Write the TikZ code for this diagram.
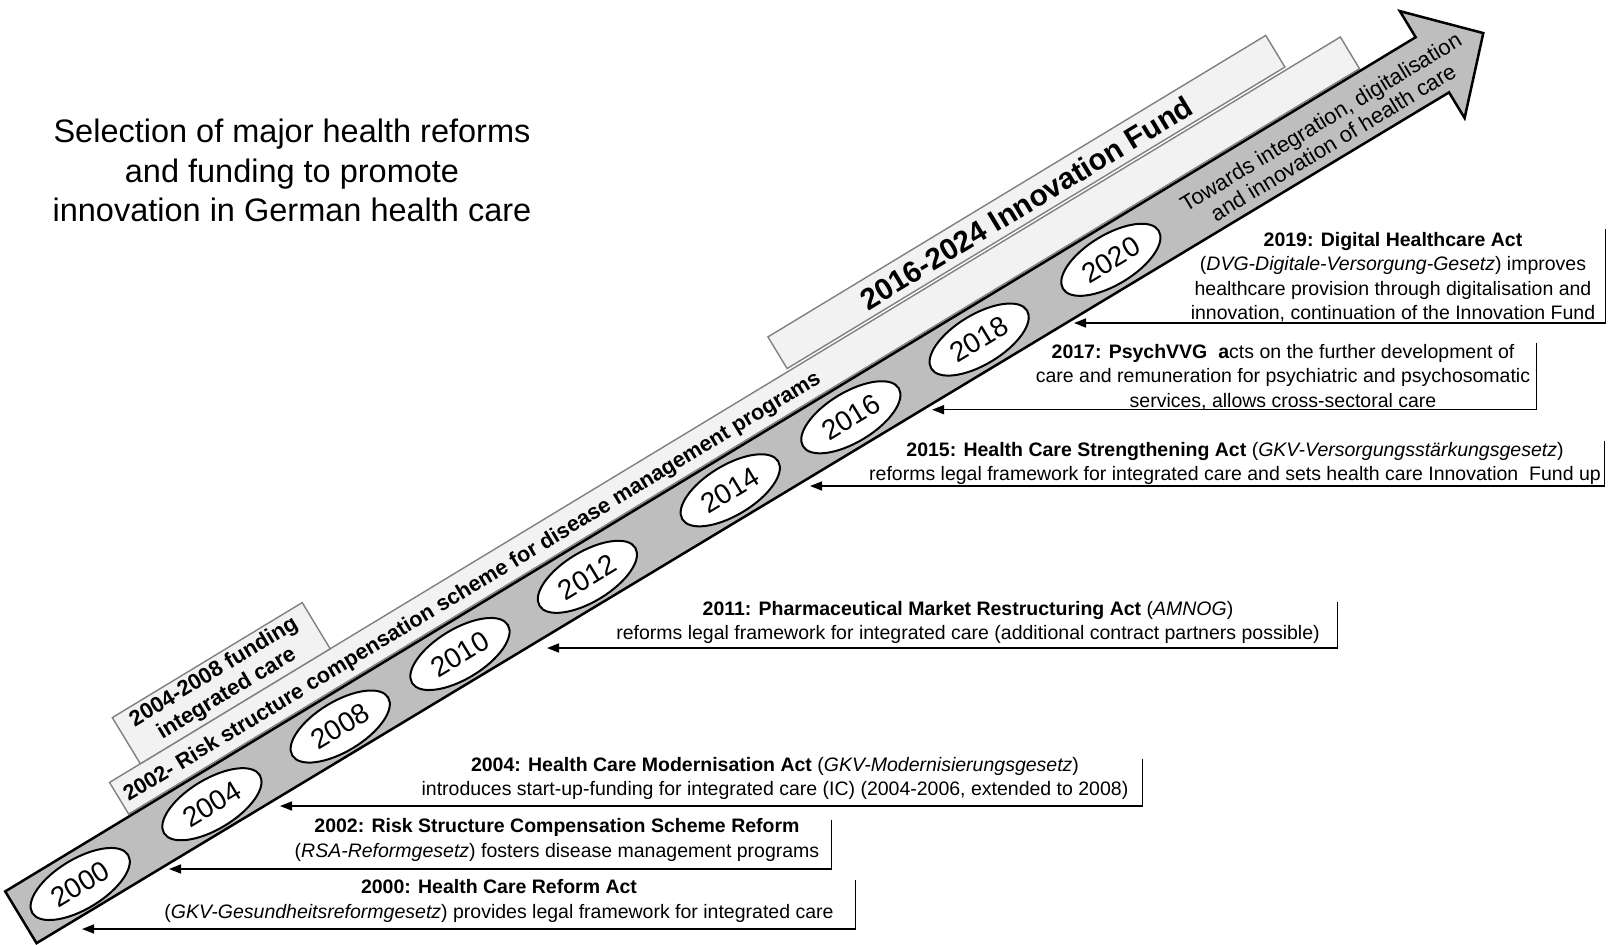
\documentclass[tikz,border=0pt]{standalone}
\usepackage{fontspec}
\setmainfont{Liberation Sans}
\usetikzlibrary{shapes.geometric,arrows.meta}
\definecolor{shaftgray}{RGB}{190,190,190}
\definecolor{boxfill}{RGB}{242,242,242}
\definecolor{boxline}{RGB}{128,128,128}
\begin{document}
\begin{tikzpicture}[x=1pt,y=1pt,
  lightbox/.style={draw=boxline, fill=boxfill, line width=1.4pt, inner sep=0pt, transform shape, anchor=south west},
  shaftstyle/.style={draw=black, fill=shaftgray, line width=2.5pt, line join=miter},
  yearel/.style={ellipse, draw=black, fill=white, line width=2pt, minimum width=112pt, minimum height=50pt, inner sep=0pt, transform shape, font=\fontsize{28}{32}\selectfont},
  bandtext/.style={transform shape, inner sep=0pt, font=\fontsize{21.6}{25}\selectfont\bfseries},
  lbl/.style={anchor=north, align=center, inner sep=0pt, font=\fontsize{19.5}{24.5}\selectfont},
  lblline/.style={line width=1.5pt, -{Triangle[length=12pt,width=9pt]}},
]
\useasboundingbox (0,0) rectangle (1618,-945);

% title
\node[align=center, anchor=north, inner sep=0pt, font=\fontsize{32.5}{39.5}\selectfont] (title) at (292,-119)
  {Selection of major health reforms\\and funding to promote\\innovation in German health care};

% rotated timeline
\begin{scope}[shift={(21,-917.5)}, rotate=31.2]
  \node[lightbox, minimum width=1439pt, minimum height=37pt] (riskbox) at (145,32) {};
  \node[lightbox, minimum width=582pt, minimum height=37pt] (fundbox) at (939,72) {};
  \node[lightbox, minimum width=222pt, minimum height=54pt] (icbox) at (181,69) {};
  \draw[shaftstyle] (0,-30) -- (1649,-34) -- (1649,-64) -- (1709,-1) -- (1649,61) -- (1649,30.5) -- (0,30.5) -- cycle;
  \foreach \yr/\s in {2000/68,2004/222,2008/372,2010/512,2012/661,2014/828,2016/969,2018/1119,2020/1273}
    \node[yearel] (y\yr) at (\s,-2) {\yr};
  \node[bandtext, anchor=base west] (risktext) at (152,43)
    {2002- Risk structure compensation scheme for disease management programs};
  \node[bandtext, anchor=base, font=\fontsize{29.8}{34}\selectfont\bfseries] (fundtext) at (1230,80)
    {2016-2024 Innovation Fund};
  \node[bandtext, align=center, font=\fontsize{22}{25}\selectfont\bfseries] (ictext) at (292,97)
    {2004-2008 funding\\integrated care};
  \node[transform shape, inner sep=0pt, align=center, font=\fontsize{22}{24}\selectfont] (towards) at (1524,-4.5)
    {Towards integration, digitalisation\\and innovation of health care};
\end{scope}

% labels
\node[lbl] (L2000) at (499,-879.5)
  {\textbf{2000: Health Care Reform Act}\\(\textit{GKV-Gesundheitsreformgesetz}) provides legal framework for integrated care};
\coordinate (a2000) at (855.5,-880);
\coordinate (b2000) at (855.5,-929);
\coordinate (t2000) at (82,-929);
\draw[lblline] (a2000) -- (b2000) -- (t2000);

\node[lbl] (L2002) at (557,-818.6)
  {\textbf{2002: Risk Structure Compensation Scheme Reform}\\(\textit{RSA-Reformgesetz}) fosters disease management programs};
\coordinate (a2002) at (831.7,-820);
\coordinate (b2002) at (831.7,-869);
\coordinate (t2002) at (169,-869);
\draw[lblline] (a2002) -- (b2002) -- (t2002);

\node[lbl] (L2004) at (775,-756.7)
  {\textbf{2004: Health Care Modernisation Act} (\textit{GKV-Modernisierungsgesetz})\\introduces start-up-funding for integrated care (IC) (2004-2006, extended to 2008)};
\coordinate (a2004) at (1142.4,-758.5);
\coordinate (b2004) at (1142.4,-806);
\coordinate (t2004) at (280,-806);
\draw[lblline] (a2004) -- (b2004) -- (t2004);

\node[lbl] (L2011) at (968,-600.8)
  {\textbf{2011: Pharmaceutical Market Restructuring Act} (\textit{AMNOG})\\reforms legal framework for integrated care (additional contract partners possible)};
\coordinate (a2011) at (1337.4,-601.6);
\coordinate (b2011) at (1337.4,-648);
\coordinate (t2011) at (547,-648);
\draw[lblline] (a2011) -- (b2011) -- (t2011);

\node[lbl] (L2015) at (1235,-442)
  {\textbf{2015: Health Care Strengthening Act} (\textit{GKV-Versorgungsstärkungsgesetz})\\reforms legal framework for integrated care and sets health care Innovation~ Fund up};
\coordinate (a2015) at (1604.6,-440.6);
\coordinate (b2015) at (1604.6,-486);
\coordinate (t2015) at (810,-486);
\draw[lblline] (a2015) -- (b2015) -- (t2015);

\node[lbl] (L2017) at (1283,-344)
  {\textbf{2017: PsychVVG}~ \textbf{a}cts on the further development of\\care and remuneration for psychiatric and psychosomatic\\services, allows cross-sectoral care};
\coordinate (a2017) at (1536.5,-342.6);
\coordinate (b2017) at (1536.5,-409.7);
\coordinate (t2017) at (932,-409.7);
\draw[lblline] (a2017) -- (b2017) -- (t2017);

\node[lbl] (L2019) at (1393,-232)
  {\textbf{2019: Digital Healthcare Act}\\(\textit{DVG-Digitale-Versorgung-Gesetz}) improves\\healthcare provision through digitalisation and\\innovation, continuation of the Innovation Fund};
\coordinate (a2019) at (1605.6,-229);
\coordinate (b2019) at (1605.6,-323);
\coordinate (t2019) at (1074,-323);
\draw[lblline] (a2019) -- (b2019) -- (t2019);

\end{tikzpicture}
\end{document}
